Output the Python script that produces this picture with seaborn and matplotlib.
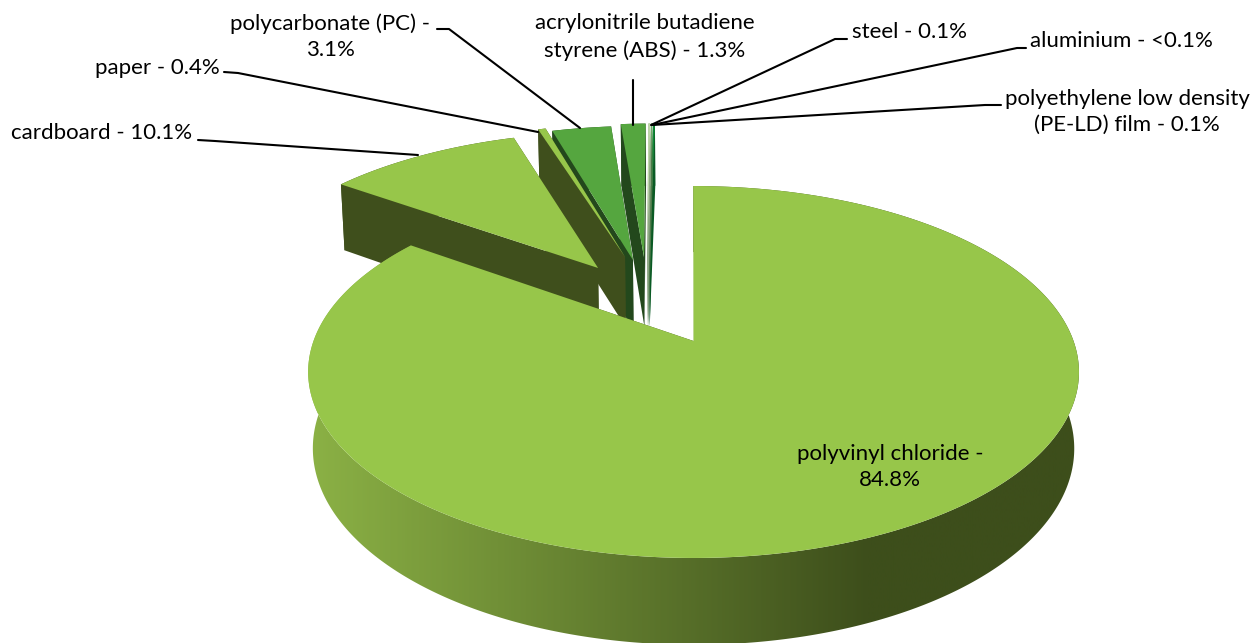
import numpy as np
import seaborn as sns
import matplotlib.pyplot as plt
from matplotlib.colors import ListedColormap
from matplotlib.patches import Polygon

# shares in percent, clockwise from 12 o'clock
materials = ['polyvinyl chloride', 'cardboard', 'paper', 'polycarbonate (PC)',
             'acrylonitrile butadiene styrene (ABS)', 'steel', 'aluminium',
             'polyethylene low density (PE-LD) film']
shares = [84.8, 10.1, 0.4, 3.1, 1.3, 0.1, 0.05, 0.1]

# explosion of each slice on the pie plane
offset_u = [0.004, -0.265, -0.191, -0.168, -0.137, -0.128, -0.125, -0.122]
offset_v = [0.0, 0.433, 0.504, 0.484, 0.504, 0.505, 0.505, 0.505]

top_colors = ['#97C64A', '#97C64A', '#97C64A', '#55A63F', '#55A63F', '#BFD8A8', '#6DB065', '#0E8A35']
wall_colors = ['#3F4F1C', '#3F4F1C', '#3F4F1C', '#23481C', '#23481C', '#8FA886', '#4E7A4A', '#0A5A24']

# perspective of the 3D pie, in pixels
CX, CY = 692, 341
A, B, C = 380, 180.8, 76
K, M = 0.1667, 0.012


def project(u, v, d):
    # d is 0 on the top face, 1 on the bottom face
    D = 1 + K * v + M * d
    return CX + A * u / D, CY - (B * v - C * d) / D


def arc(t1, t2, off_u, off_v, d):
    t = np.radians(np.linspace(t1, t2, max(int(abs(t2 - t1) * 2), 2)))
    return project(np.sin(t) + off_u, np.cos(t) + off_v, d)


def draw_slice(ax, t1, t2, off_u, off_v, top, wall, gradient=False):
    ax_x, ax_y = project(off_u, off_v, 0)
    bx, by = project(off_u, off_v, 1)
    x0, y0 = arc(t1, t2, off_u, off_v, 0)
    x1, y1 = arc(t1, t2, off_u, off_v, 1)
    # outer wall
    wall_x = np.r_[x0, x1[::-1]]
    wall_y = np.r_[y0, y1[::-1]]
    if gradient:
        xs = np.linspace(300, 1090, 400)
        img = np.clip((xs - 310) / 560, 0, 1)[None, :]
        cmap = ListedColormap(sns.blend_palette(['#8BB145', '#3D4E1B'], 256))
        im = ax.imshow(img, extent=(300, 1090, 660, 180), cmap=cmap, aspect='auto', zorder=2)
        im.set_clip_path(Polygon(np.c_[wall_x, wall_y], transform=ax.transData))
    else:
        ax.fill(wall_x, wall_y, color=wall, lw=0, zorder=2)
    # radial walls, the far one first
    ax.fill([ax_x, x0[-1], x1[-1], bx], [ax_y, y0[-1], y1[-1], by], color=wall, lw=0, zorder=2)
    ax.fill([ax_x, x0[0], x1[0], bx], [ax_y, y0[0], y1[0], by], color=wall, lw=0, zorder=2)
    ax.fill(np.r_[ax_x, x0], np.r_[ax_y, y0], color=top, lw=0, zorder=2)


fig, ax = plt.subplots(figsize=(12.6, 6.43), dpi=100)
sns.set_theme(style='white')
plt.rcParams['font.family'] = ['Lato', 'DejaVu Sans']
fig.subplots_adjust(0, 0, 1, 1)
ax.set_axis_off()

edges = np.r_[0, np.cumsum(shares)] / sum(shares) * 360
# far slices first, the big one last
for i in range(len(shares) - 1, -1, -1):
    draw_slice(ax, edges[i], edges[i + 1], offset_u[i], offset_v[i],
               top_colors[i], wall_colors[i], gradient=i == 0)

ax.set_xlim(0, 1260)
ax.set_ylim(643, 0)

FS = 16
labels = [
    ('cardboard - 10.1%', 102, 133),
    ('paper - 0.4%', 157, 68),
    ('polycarbonate (PC) -\n3.1%', 330, 37),
    ('acrylonitrile butadiene\nstyrene (ABS) - 1.3%', 645, 37),
    ('steel - 0.1%', 910, 32),
    ('aluminium - <0.1%', 1121, 41),
    ('polyethylene low density\n(PE-LD) film - 0.1%', 1127, 112),
    ('polyvinyl chloride -\n84.8%', 890, 467),
]
for text, x, y in labels:
    ax.text(x, y, text, ha='center', va='center', fontsize=FS, color='black',
            linespacing=1.39, zorder=4)

leaders = [
    ([198, 215, 418], [140, 141, 155]),
    ([224, 238, 538], [72, 73, 132]),
    ([437, 449, 580], [29, 29, 128]),
    ([633, 633], [80, 125]),
    ([847, 835, 651], [39, 39, 125]),
    ([1026, 1017, 652], [48, 48, 125]),
    ([1001, 985, 652], [105, 105, 125]),
]
for xs, ys in leaders:
    ax.plot(xs, ys, color='black', lw=1.5, zorder=3)

fig.savefig('out.png', dpi=100)
